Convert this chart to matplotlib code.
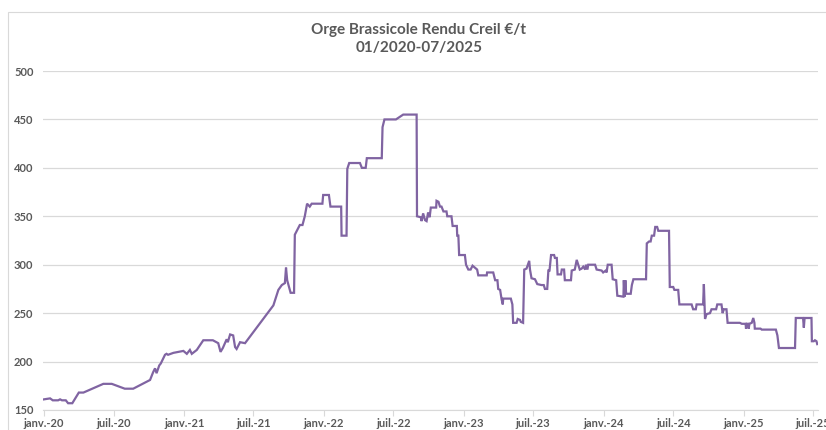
"""Orge Brassicole Rendu Creil - price line, 01/2020-07/2025."""
import numpy as np
import pandas as pd
import matplotlib
matplotlib.use('Agg')
import matplotlib.pyplot as plt
from matplotlib.patches import Rectangle

# data (date, EUR/t)
dates_2020 = ['2020-01-01', '2020-01-17', '2020-01-24', '2020-02-07', '2020-02-12', '2020-02-17',
              '2020-02-27', '2020-03-04', '2020-03-15', '2020-04-01', '2020-04-13', '2020-06-04',
              '2020-06-26', '2020-07-30', '2020-08-21', '2020-10-04', '2020-10-12', '2020-10-17',
              '2020-10-21', '2020-10-28', '2020-11-01', '2020-11-12', '2020-11-16', '2020-11-20',
              '2020-12-04', '2020-12-30']
prices_2020 = [161, 162, 160, 160, 161, 160, 160, 157, 157, 168, 168, 177, 177, 172, 172, 181,
               189, 193, 188, 196, 198, 207, 208, 207, 209, 211]

dates_2021 = ['2021-01-08', '2021-01-16', '2021-01-21', '2021-02-03', '2021-02-20', '2021-03-17',
              '2021-03-31', '2021-04-06', '2021-04-12', '2021-04-22', '2021-04-25', '2021-05-01',
              '2021-05-09', '2021-05-14', '2021-05-18', '2021-05-27', '2021-06-09', '2021-08-22',
              '2021-09-04', '2021-09-13', '2021-09-21', '2021-09-24', '2021-09-27', '2021-10-06',
              '2021-10-15', '2021-10-17', '2021-10-26', '2021-10-30', '2021-11-06', '2021-11-12',
              '2021-11-18', '2021-11-25', '2021-11-30', '2021-12-28', '2021-12-30']
prices_2021 = [208, 212, 208, 212, 222, 222, 219, 210, 214, 223, 220, 228, 227, 215, 213, 220,
               219, 258, 274, 279, 281, 297, 284, 271, 271, 331, 338, 341, 341, 350, 363, 360,
               363, 363, 372]

dates_2022 = ['2022-01-14', '2022-01-18', '2022-02-15', '2022-02-16', '2022-03-01', '2022-03-03',
              '2022-03-08', '2022-04-05', '2022-04-10', '2022-04-20', '2022-04-23', '2022-06-01',
              '2022-06-03', '2022-06-08', '2022-07-08', '2022-07-27', '2022-08-31', '2022-09-01',
              '2022-09-11', '2022-09-13', '2022-09-17', '2022-09-22', '2022-09-26', '2022-09-30',
              '2022-10-04', '2022-10-07', '2022-10-21', '2022-10-22', '2022-10-27', '2022-10-31',
              '2022-11-04', '2022-11-09', '2022-11-17', '2022-11-19', '2022-11-30', '2022-12-03',
              '2022-12-14', '2022-12-15', '2022-12-18', '2022-12-20']
prices_2022 = [372, 360, 360, 330, 330, 399, 405, 405, 400, 400, 410, 410, 442, 450, 450, 455,
               455, 350, 349, 345, 353, 346, 345, 354, 349, 359, 359, 366, 365, 360, 360, 355,
               355, 350, 350, 340, 340, 330, 330, 310]

dates_2023 = ['2023-01-04', '2023-01-07', '2023-01-13', '2023-01-19', '2023-01-24', '2023-01-30',
              '2023-02-05', '2023-02-08', '2023-03-02', '2023-03-03', '2023-03-19', '2023-03-24',
              '2023-03-30', '2023-04-01', '2023-04-06', '2023-04-10', '2023-04-13', '2023-04-14',
              '2023-05-04', '2023-05-08', '2023-05-10', '2023-05-19', '2023-05-22', '2023-05-28',
              '2023-05-30', '2023-06-05', '2023-06-08', '2023-06-14', '2023-06-21', '2023-06-23',
              '2023-06-27', '2023-07-06', '2023-07-12', '2023-07-23', '2023-07-29', '2023-08-01',
              '2023-08-07', '2023-08-10', '2023-08-13', '2023-08-17', '2023-08-25', '2023-08-27',
              '2023-09-01', '2023-09-03', '2023-09-12', '2023-09-14', '2023-09-20', '2023-09-22',
              '2023-10-08', '2023-10-10', '2023-10-18', '2023-10-23', '2023-10-27', '2023-10-31',
              '2023-11-05', '2023-11-09', '2023-11-14', '2023-11-16', '2023-11-20', '2023-11-22',
              '2023-12-10', '2023-12-14', '2023-12-27', '2023-12-31']
prices_2023 = [310, 300, 295, 295, 299, 297, 295, 289, 289, 292, 292, 284, 284, 275, 274, 264,
               259, 265, 265, 259, 240, 240, 244, 243, 241, 240, 295, 296, 304, 295, 286, 285,
               280, 279, 279, 275, 275, 294, 294, 310, 310, 307, 307, 290, 290, 295, 295, 284,
               284, 294, 295, 305, 300, 295, 296, 298, 295, 300, 295, 300, 300, 295, 294, 292]

dates_2024 = ['2024-01-07', '2024-01-09', '2024-01-12', '2024-01-22', '2024-01-25', '2024-02-03',
              '2024-02-06', '2024-02-22', '2024-02-23', '2024-02-25', '2024-02-27', '2024-02-29',
              '2024-03-12', '2024-03-15', '2024-03-19', '2024-04-21', '2024-04-23', '2024-04-29',
              '2024-05-03', '2024-05-06', '2024-05-12', '2024-05-15', '2024-05-20', '2024-05-23',
              '2024-06-20', '2024-06-22', '2024-07-01', '2024-07-04', '2024-07-14', '2024-07-17',
              '2024-08-18', '2024-08-22', '2024-08-29', '2024-08-31', '2024-09-17', '2024-09-19',
              '2024-09-22', '2024-09-26', '2024-10-05', '2024-10-09', '2024-10-21', '2024-10-24',
              '2024-11-04', '2024-11-07', '2024-11-10', '2024-11-17', '2024-11-20', '2024-12-22',
              '2024-12-27']
prices_2024 = [294, 292, 300, 300, 285, 284, 268, 267, 284, 267, 284, 270, 270, 279, 285, 285,
               322, 324, 324, 330, 330, 339, 339, 335, 335, 277, 277, 274, 274, 259, 259, 254,
               254, 259, 259, 280, 244, 249, 250, 254, 254, 259, 259, 250, 254, 254, 240, 240,
               239]

dates_2025 = ['2025-01-06', '2025-01-07', '2025-01-09', '2025-01-13', '2025-01-14', '2025-01-16',
              '2025-01-22', '2025-01-26', '2025-01-29', '2025-01-30', '2025-02-14', '2025-02-17',
              '2025-03-26', '2025-03-30', '2025-04-03', '2025-05-15', '2025-05-17', '2025-06-05',
              '2025-06-07', '2025-06-09', '2025-06-27', '2025-06-28', '2025-07-03', '2025-07-06',
              '2025-07-10', '2025-07-12']
prices_2025 = [239, 234, 239, 239, 234, 239, 240, 245, 240, 234, 234, 233, 233, 227, 214, 214,
               245, 245, 235, 245, 245, 221, 221, 222, 221, 218]

tick_dates = ['2020-01-01', '2020-07-01', '2021-01-01', '2021-07-01', '2022-01-01', '2022-07-01',
              '2023-01-01', '2023-07-01', '2024-01-01', '2024-07-01', '2025-01-01', '2025-07-01']
tick_labels = ['janv.-20', 'juil.-20', 'janv.-21', 'juil.-21', 'janv.-22', 'juil.-22',
               'janv.-23', 'juil.-23', 'janv.-24', 'juil.-24', 'janv.-25', 'juil.-25']

dates = pd.to_datetime(dates_2020 + dates_2021 + dates_2022 + dates_2023 + dates_2024 + dates_2025)
prices = prices_2020 + prices_2021 + prices_2022 + prices_2023 + prices_2024 + prices_2025

grey = '#595959'
plt.rcParams['font.family'] = ['Lato', 'DejaVu Sans']

fig = plt.figure(figsize=(8.26, 4.30), dpi=100)
# chart frame (runs past the right/bottom edges like the screenshot)
fig.patches.append(Rectangle((8 / 826, -0.2), 1.2, 1 - 12 / 430 + 0.2, transform=fig.transFigure,
                             fill=False, edgecolor='#D9D9D9', lw=0.8))

ax = fig.add_axes([43.2 / 826, 20 / 430, (818 - 43.2) / 826, (410 - 71) / 430])
ax.plot(dates, prices, color='#8064A2', lw=1.6, solid_joinstyle='miter')

ax.set_ylim(150, 500)
ax.set_yticks(np.arange(150, 501, 50))
ax.set_xlim(pd.Timestamp('2019-12-30'), pd.Timestamp('2025-07-14'))
ax.set_xticks(pd.to_datetime(tick_dates))
ax.set_xticklabels(tick_labels)

ax.grid(axis='y', color='#D9D9D9', lw=0.9)
ax.set_axisbelow(True)
for s in ['top', 'right', 'left']:
    ax.spines[s].set_visible(False)
ax.spines['bottom'].set_color('#D9D9D9')
ax.tick_params(axis='y', length=0, pad=7, labelsize=8, labelcolor=grey)
ax.tick_params(axis='x', length=4, color='#D9D9D9', pad=2, labelsize=8, labelcolor=grey)
for lab in ax.get_xticklabels() + ax.get_yticklabels():
    lab.set_fontweight('bold')

fig.text(419 / 826, 1 - 30 / 430, 'Orge Brassicole Rendu Creil €/t', ha='center', va='center',
         fontsize=11, fontweight='bold', color=grey)
fig.text(419 / 826, 1 - 48 / 430, '01/2020-07/2025', ha='center', va='center',
         fontsize=11, fontweight='bold', color=grey)

fig.savefig('out.png', dpi=100)
plt.close(fig)
